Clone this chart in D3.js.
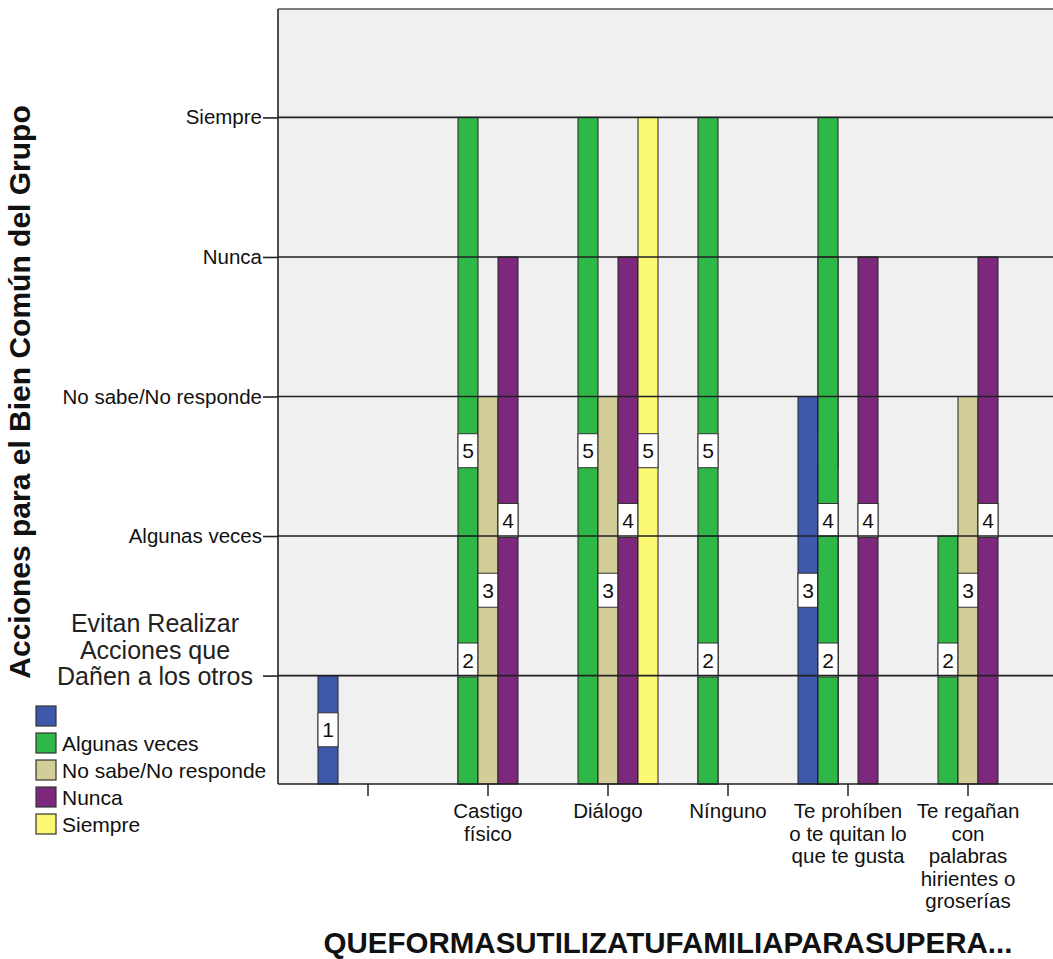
<!DOCTYPE html>
<html>
<head>
<meta charset="utf-8">
<script src="https://cdn.jsdelivr.net/npm/d3@7"></script>
<style>
  body { margin: 0; background: #fff; }
  svg { display: block; font-family: "Liberation Sans", Arial, sans-serif; }
</style>
</head>
<body>
<div id="viz"></div>
<script>
//Datos del gráfico
const xCategories = ['', 'Castigo físico', 'Diálogo', 'Nínguno', 'Te prohíben o te quitan lo que te gusta', 'Te regañan con palabras hirientes o groserías'];
const xTickLines = [[''], ['Castigo', 'físico'], ['Diálogo'], ['Nínguno'], ['Te prohíben', 'o te quitan lo', 'que te gusta'], ['Te regañan', 'con', 'palabras', 'hirientes o', 'groserías']];
const seriesNames = ['', 'Algunas veces', 'No sabe/No responde', 'Nunca', 'Siempre'];
const yLevels = ['', 'Algunas veces', 'No sabe/No responde', 'Nunca', 'Siempre'];
const legendTitle = ['Evitan Realizar', 'Acciones que', 'Dañen a los otros'];
const yTitle = 'Acciones para el Bien Común del Grupo';
const xTitle = 'QUEFORMASUTILIZATUFAMILIAPARASUPERA...';

//Barras: [categoría, serie, valor] (las barras solapadas van en orden descendente)
const barCats = ['', 'Castigo físico', 'Castigo físico', 'Castigo físico', 'Castigo físico',
    'Diálogo', 'Diálogo', 'Diálogo', 'Diálogo',
    'Nínguno', 'Nínguno',
    'Te prohíben o te quitan lo que te gusta', 'Te prohíben o te quitan lo que te gusta', 'Te prohíben o te quitan lo que te gusta', 'Te prohíben o te quitan lo que te gusta', 'Te prohíben o te quitan lo que te gusta',
    'Te regañan con palabras hirientes o groserías', 'Te regañan con palabras hirientes o groserías', 'Te regañan con palabras hirientes o groserías'];
const barSeries = ['', 'Algunas veces', 'Algunas veces', 'No sabe/No responde', 'Nunca',
    'Algunas veces', 'No sabe/No responde', 'Nunca', 'Siempre',
    'Algunas veces', 'Algunas veces',
    '', 'Algunas veces', 'Algunas veces', 'Algunas veces', 'Nunca',
    'Algunas veces', 'No sabe/No responde', 'Nunca'];
const barValues = [1, 5, 2, 3, 4,
    5, 3, 4, 5,
    5, 2,
    3, 5, 4, 2, 4,
    2, 3, 4];

//Colores fijos
const COLORS = ['#3E58AC', '#2EB848', '#D3CE97', '#7C287D', '#FBF873'];

const W = 1053, H = 959;
const plot = {left: 278, right: 1058, top: 9, bottom: 784};

let svg = d3.select('#viz').append('svg')
    .attr('width', W)
    .attr('height', H);

// fondo del área
svg.append('rect')
    .attr('x', plot.left).attr('y', plot.top)
    .attr('width', plot.right - plot.left).attr('height', plot.bottom - plot.top)
    .attr('fill', '#F0F0F0');

// Escalas
let x0 = d3.scaleBand()
    .domain(xCategories)
    .range([plot.left, plot.right])
    .paddingInner(0)
    .paddingOuter(0.25);

let x1 = d3.scaleBand()
    .domain(seriesNames)
    .range([10, x0.bandwidth() - 10]);

let y = d3.scaleLinear()
    .domain([0.223, 5.777])
    .range([plot.bottom, plot.top]);

let color = d3.scaleOrdinal().domain(seriesNames).range(COLORS);

// Barras y etiquetas
let bars = barValues.map(function(v, i) { return {cat: barCats[i], ser: barSeries[i], v: v}; });
let gBars = svg.append('g');
bars.forEach(function(d) {
    let bx = x0(d.cat) + x1(d.ser);
    let bw = x1.bandwidth();
    gBars.append('rect')
        .attr('x', bx).attr('y', y(d.v))
        .attr('width', bw).attr('height', y.range()[0] - y(d.v))
        .attr('fill', color(d.ser))
        .attr('stroke', '#222').attr('stroke-width', 1);
    let cy = (y(d.v) + y.range()[0]) / 2;
    gBars.append('rect')
        .attr('x', bx).attr('y', cy - 17)
        .attr('width', bw).attr('height', 34)
        .attr('fill', '#fff')
        .attr('stroke', '#333').attr('stroke-width', 1);
    gBars.append('text')
        .attr('x', bx + bw / 2).attr('y', cy)
        .attr('dy', '0.36em')
        .attr('text-anchor', 'middle')
        .attr('font-size', 21)
        .attr('fill', '#111')
        .text(d.v);
});

// Líneas de referencia
svg.append('g').selectAll('line')
    .data(d3.range(1, yLevels.length + 1))
    .enter().append('line')
    .attr('x1', plot.left).attr('x2', plot.right)
    .attr('y1', function(d) { return y(d); }).attr('y2', function(d) { return y(d); })
    .attr('stroke', '#222').attr('stroke-width', 1.6);

// marco superior
svg.append('line')
    .attr('x1', plot.left).attr('x2', plot.right)
    .attr('y1', plot.top).attr('y2', plot.top)
    .attr('stroke', '#555').attr('stroke-width', 1.5);

// Eje Y
let yAxis = svg.append('g')
    .attr('transform', 'translate(' + plot.left + ',0)')
    .call(d3.axisLeft(y)
        .tickValues(d3.range(1, yLevels.length + 1))
        .tickFormat(function(d) { return yLevels[d - 1]; })
        .tickSize(15)
        .tickPadding(1));
yAxis.select('.domain').remove();
yAxis.selectAll('.tick line').attr('stroke', '#222').attr('stroke-width', 1.6);
yAxis.selectAll('.tick text')
    .attr('font-size', 20.5)
    .attr('font-family', '"Liberation Sans", Arial, sans-serif')
    .attr('fill', '#111');
svg.append('line')
    .attr('x1', plot.left).attr('x2', plot.left)
    .attr('y1', plot.top).attr('y2', plot.bottom)
    .attr('stroke', '#222').attr('stroke-width', 1.6);

// Eje X
let xAxis = svg.append('g')
    .attr('transform', 'translate(0,' + plot.bottom + ')')
    .call(d3.axisBottom(x0).tickSize(12).tickFormat(''));
xAxis.select('.domain').remove();
xAxis.selectAll('.tick line').attr('stroke', '#333').attr('stroke-width', 1.6);
xAxis.selectAll('.tick').each(function(d, i) {
    let t = d3.select(this).append('text')
        .attr('text-anchor', 'middle')
        .attr('font-size', 20.5)
        .attr('fill', '#111')
        .attr('y', 34);
    xTickLines[i].forEach(function(line, j) {
        t.append('tspan').attr('x', 0).attr('dy', j === 0 ? 0 : 22.5).text(line);
    });
});
svg.append('line')
    .attr('x1', plot.left).attr('x2', plot.right)
    .attr('y1', plot.bottom).attr('y2', plot.bottom)
    .attr('stroke', '#222').attr('stroke-width', 1.6);

// Títulos de ejes
svg.append('text')
    .attr('transform', 'translate(30,392) rotate(-90)')
    .attr('text-anchor', 'middle')
    .attr('font-size', 30)
    .attr('font-weight', 'bold')
    .attr('fill', '#111')
    .text(yTitle);

svg.append('text')
    .attr('x', (plot.left + plot.right) / 2).attr('y', 953)
    .attr('text-anchor', 'middle')
    .attr('font-size', 29.5)
    .attr('font-weight', 'bold')
    .attr('fill', '#111')
    .text(xTitle);

// Leyenda
let legend = svg.append('g');
legendTitle.forEach(function(line, i) {
    legend.append('text')
        .attr('x', 155).attr('y', 632 + i * 26.5)
        .attr('text-anchor', 'middle')
        .attr('font-size', 25)
        .attr('fill', '#222')
        .text(line);
});
seriesNames.forEach(function(s, i) {
    let ly = 706 + i * 27;
    legend.append('rect')
        .attr('x', 36).attr('y', ly)
        .attr('width', 20).attr('height', 20)
        .attr('fill', color(s))
        .attr('stroke', '#333').attr('stroke-width', 1.2);
    legend.append('text')
        .attr('x', 62).attr('y', ly + 10)
        .attr('dy', '0.36em')
        .attr('font-size', 21)
        .attr('fill', '#111')
        .text(s);
});
</script>
</body>
</html>
